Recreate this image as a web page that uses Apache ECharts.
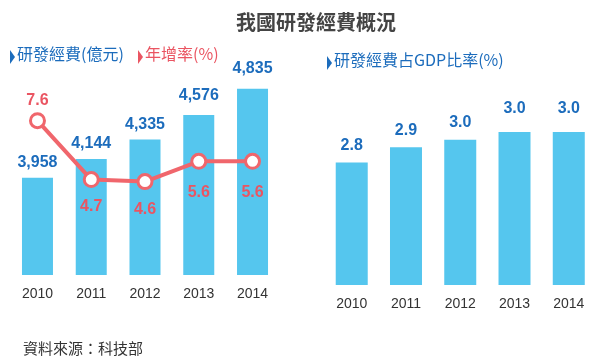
<!DOCTYPE html>
<html><head><meta charset="utf-8">
<script src="https://cdn.jsdelivr.net/npm/echarts@6/dist/echarts.min.js"></script>
<style>html,body{margin:0;padding:0;background:#fff}#c{width:597px;height:362px}</style>
</head><body><div id="c"></div>
<script>
const years = ['2010','2011','2012','2013','2014'];
const rdSpending = [3958, 4144, 4335, 4576, 4835];      // 億元
const growthRate = [7.6, 4.7, 4.6, 5.6, 5.6];            // %
const rdGdpRatio = [2.8, 2.9, 2.95, 3.0, 3.0];           // %

const CJK = '"Noto Sans CJK TC","Noto Sans CJK SC",sans-serif';
const NUM = '"Liberation Sans",Arial,sans-serif';
const BAR = '#55c6ee', BLUE = '#1c6cbc', RED = '#ea5562', LINE = '#f0666c';

const barLabelGap = [7, 7, 7, 11, 12];
const ratioLabelGap = [9, 9, 9, 15, 15];
const rateLabelPos = ['top', 'bottom', 'bottom', 'bottom', 'bottom'];
const rateLabelGap = [4, 11, 11, 15, 15];

const chart = echarts.init(document.getElementById('c'), null, {renderer: 'canvas'});
const xCommon = {
  type: 'category', data: years,
  axisLine: {show: false}, axisTick: {show: false},
  axisLabel: {color: '#333', fontFamily: NUM, fontSize: 14, margin: 12}
};
chart.setOption({
  animation: false,
  backgroundColor: '#fff',
  title: {
    text: '我國研發經費概況', left: 231, top: 7,
    textStyle: {fontFamily: CJK, fontSize: 20, fontWeight: 'bold', color: '#444'}
  },
  grid: [
    {left: 10.6, top: 72, width: 268.8, height: 203},
    {left: 324.6, top: 101.4, width: 271.3, height: 183.6}
  ],
  xAxis: [
    Object.assign({gridIndex: 0}, xCommon),
    Object.assign({gridIndex: 1}, xCommon)
  ],
  yAxis: [
    {gridIndex: 0, type: 'value', min: 3000, max: 5000, show: false},
    {gridIndex: 0, type: 'value', min: 0, max: 10, show: false},
    {gridIndex: 1, type: 'value', min: 2.0, max: 3.2, show: false}
  ],
  graphic: [
    {type: 'polygon', shape: {points: [[10, 50], [15, 57], [10, 64]]}, style: {fill: BLUE}},
    {type: 'text', left: 17, top: 46, style: {text: '研發經費(億元)', fill: BLUE, font: '16px ' + CJK}},
    {type: 'polygon', shape: {points: [[138, 50], [143, 57], [138, 64]]}, style: {fill: RED}},
    {type: 'text', left: 145, top: 46, style: {text: '年增率(%)', fill: RED, font: '16px ' + CJK}},
    {type: 'polygon', shape: {points: [[327, 56], [332, 63], [327, 70]]}, style: {fill: BLUE}},
    {type: 'text', left: 334, top: 52, style: {text: '研發經費占GDP比率(%)', fill: BLUE, font: '16px ' + CJK}},
    {type: 'text', left: 23, top: 341, style: {text: '資料來源：科技部', fill: '#333', font: '15px ' + CJK}}
  ],
  series: [
    {
      type: 'bar', xAxisIndex: 0, yAxisIndex: 0, barWidth: 31,
      itemStyle: {color: BAR},
      data: rdSpending.map((v, i) => ({value: v, label: {distance: barLabelGap[i]}})),
      label: {show: true, position: 'top', color: BLUE, fontFamily: NUM, fontWeight: 'bold', fontSize: 16,
        formatter: p => p.value.toLocaleString('en-US')}
    },
    {
      type: 'line', xAxisIndex: 0, yAxisIndex: 1, z: 5,
      symbol: 'circle', symbolSize: 14,
      lineStyle: {color: LINE, width: 4},
      itemStyle: {color: '#fff', borderColor: LINE, borderWidth: 3},
      data: growthRate.map((v, i) => ({value: v, label: {position: rateLabelPos[i], distance: rateLabelGap[i]}})),
      label: {show: true, color: RED, fontFamily: NUM, fontWeight: 'bold', fontSize: 16,
        formatter: p => p.value.toFixed(1)}
    },
    {
      type: 'bar', xAxisIndex: 1, yAxisIndex: 2, barWidth: 32,
      itemStyle: {color: BAR},
      data: rdGdpRatio.map((v, i) => ({value: v, label: {distance: ratioLabelGap[i]}})),
      label: {show: true, position: 'top', color: BLUE, fontFamily: NUM, fontWeight: 'bold', fontSize: 16,
        formatter: p => p.value.toFixed(1)}
    }
  ]
});
</script></body></html>
